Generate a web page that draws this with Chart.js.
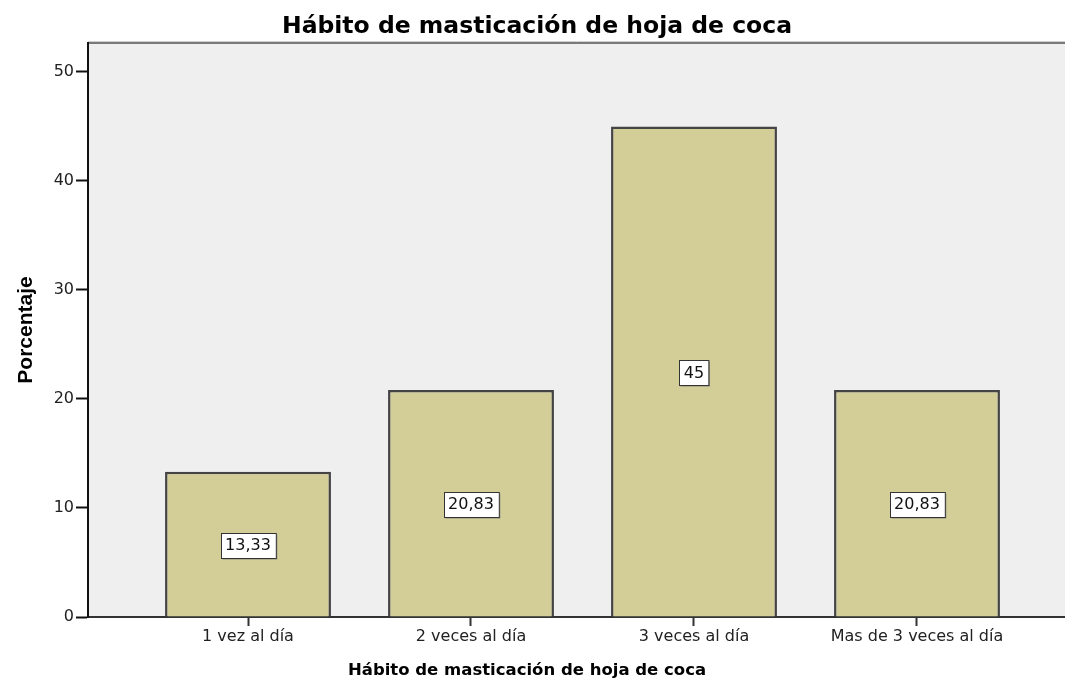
<!DOCTYPE html>
<html>
<head>
<meta charset="utf-8">
<script src="https://cdn.jsdelivr.net/npm/chart.js@4.4.1/dist/chart.umd.min.js"></script>
<style>
  html, body { margin: 0; padding: 0; background: #fff; overflow: hidden; }
  #wrap { width: 1065px; height: 681px; }
</style>
</head>
<body>
<div id="wrap"><canvas id="chart" width="1065" height="681"></canvas></div>
<script>
// datos del gráfico
const categories = ['1 vez al día', '2 veces al día', '3 veces al día', 'Mas de 3 veces al día'];
const percentages = [13.33, 20.83, 45, 20.83];
const yTicks = [0, 10, 20, 30, 40, 50];

const chartTitle = 'Hábito de masticación de hoja de coca';
const xTitle = 'Hábito de masticación de hoja de coca';

// fondo gris del área y borde superior
const plotBackground = {
  id: 'plotBackground',
  beforeDraw(chart) {
    const { ctx, chartArea: a } = chart;
    ctx.save();
    ctx.fillStyle = '#efefef';
    ctx.fillRect(a.left, a.top, a.right - a.left, a.bottom - a.top);
    ctx.strokeStyle = '#d0d0d0';
    ctx.lineWidth = 1;
    ctx.beginPath();
    ctx.moveTo(a.left, a.top - 1.5);
    ctx.lineTo(a.right, a.top - 1.5);
    ctx.stroke();
    ctx.strokeStyle = '#7a7a7a';
    ctx.lineWidth = 2;
    ctx.beginPath();
    ctx.moveTo(a.left, a.top);
    ctx.lineTo(a.right, a.top);
    ctx.stroke();
    ctx.restore();
  }
};

// etiquetas con el valor dentro de cada barra (caja blanca)
const valueBoxes = {
  id: 'valueBoxes',
  afterDatasetsDraw(chart) {
    const { ctx } = chart;
    const meta = chart.getDatasetMeta(0);
    ctx.save();
    ctx.font = '16px "DejaVu Sans"';
    ctx.textAlign = 'center';
    ctx.textBaseline = 'middle';
    meta.data.forEach((bar, i) => {
      const txt = String(percentages[i]).replace('.', ',');
      const w = ctx.measureText(txt).width + 9;
      const h = 25;
      const cx = bar.x;
      const cy = (bar.y + bar.base) / 2 + 1;
      const x0 = Math.round(cx - w / 2) + 0.5;
      const y0 = Math.round(cy - h / 2) + 0.5;
      ctx.fillStyle = '#8a8a7a';
      ctx.fillRect(x0 + 1, y0 + 1, w, h);
      ctx.fillStyle = '#fff';
      ctx.fillRect(x0, y0, w, h);
      ctx.strokeStyle = '#333';
      ctx.lineWidth = 1;
      ctx.strokeRect(x0, y0, w, h);
      ctx.fillStyle = '#111';
      ctx.fillText(txt, cx, cy + 1);
    });
    ctx.restore();
  }
};

// títulos: el principal arriba y el del eje x
const titles = {
  id: 'titles',
  afterDraw(chart) {
    const { ctx } = chart;
    ctx.save();
    ctx.fillStyle = '#000';
    ctx.textBaseline = 'alphabetic';
    ctx.textAlign = 'center';
    ctx.font = 'bold 23.5px "DejaVu Sans"';
    ctx.fillText(chartTitle, 537, 33);
    ctx.font = 'bold 16.5px "DejaVu Sans"';
    ctx.fillText(xTitle, 527, 675);
    ctx.restore();
  }
};

new Chart(document.getElementById('chart'), {
  type: 'bar',
  data: {
    datasets: [{
      data: percentages.map((v, i) => ({ x: i, y: v })),
      backgroundColor: '#d3cd98',
      borderColor: '#444',
      borderWidth: 2.5,
      categoryPercentage: 1,
      barPercentage: 0.744,
    }]
  },
  options: {
    responsive: false,
    animation: false,
    layout: { padding: { top: 43, left: 0, right: 0, bottom: 0 } },
    plugins: {
      legend: { display: false },
      tooltip: { enabled: false },
      title: { display: false },
    },
    scales: {
      x: {
        type: 'linear',
        min: -0.7175,
        max: 3.6637,
        offset: false,
        afterBuildTicks: (scale) => { scale.ticks = categories.map((c, i) => ({ value: i })); },
        afterFit: (scale) => { scale.height = 64; },
        ticks: {
          callback: (v) => categories[v],
          color: '#222',
          font: { family: 'DejaVu Sans', size: 16 },
          padding: 1,
          maxRotation: 0,
          autoSkip: false,
        },
        grid: {
          offset: false,
          drawOnChartArea: false,
          tickLength: 9,
          tickColor: '#333',
          tickWidth: 2,
        },
        border: { color: '#333', width: 2 },
      },
      y: {
        min: 0,
        max: 52.66,
        afterBuildTicks: (scale) => { scale.ticks = yTicks.map(v => ({ value: v })); },
        afterFit: (scale) => { scale.width = 88; },
        ticks: {
          color: '#222',
          font: { family: 'DejaVu Sans', size: 16 },
          padding: 2,
        },
        grid: {
          drawOnChartArea: false,
          tickLength: 12,
          tickColor: '#111',
          tickWidth: 2,
        },
        border: { color: '#111', width: 2 },
        title: {
          display: true,
          text: 'Porcentaje',
          color: '#000',
          font: { family: 'Liberation Sans', size: 21, weight: 'bold' },
          padding: { top: 14, bottom: 0 },
        },
      },
    },
  },
  plugins: [plotBackground, valueBoxes, titles],
});
</script>
</body>
</html>
